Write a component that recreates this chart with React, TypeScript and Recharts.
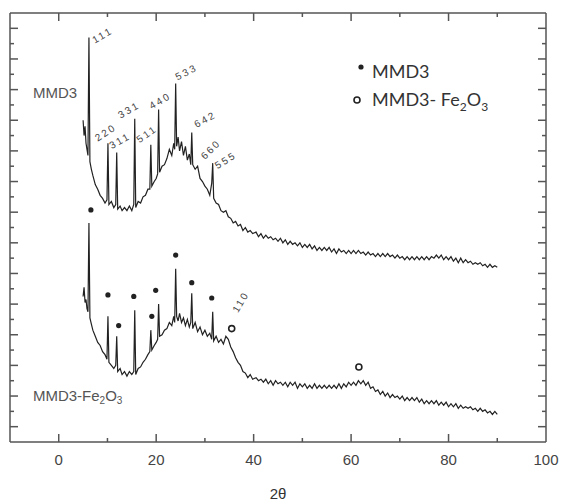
import React from 'react';
import { ComposedChart, Line, Scatter, XAxis, YAxis, ReferenceDot, Legend } from 'recharts';

// 2θ sampling shared by both patterns (deg)
const twoTheta = [
  5.0, 5.2, 5.4, 5.6, 5.8, 6.0, 6.2, 6.4, 6.7, 7.0, 7.5, 8.0, 8.5, 9.0, 9.5, 9.9,
  10.1, 10.3, 10.8, 11.3, 11.7, 11.9, 12.1, 12.6, 13.0, 13.5, 14.0, 14.5, 15.0, 15.4, 15.6, 15.8,
  16.3, 16.8, 17.3, 17.8, 18.3, 18.7, 18.9, 19.1, 19.6, 20.0, 20.3, 20.5, 20.7, 21.2, 21.7, 22.2,
  22.7, 23.2, 23.6, 23.8, 24.0, 24.2, 24.5, 24.8, 25.2, 25.6, 26.0, 26.4, 26.8, 27.1, 27.3, 27.5,
  28.0, 28.5, 29.0, 29.5, 30.0, 30.5, 31.0, 31.4, 31.6, 31.8, 32.3, 32.8, 33.3, 33.8, 34.3, 34.8,
  35.3, 35.8, 36.3, 36.8, 37.3, 37.8, 38.3, 38.8, 39.3, 39.8, 40.5, 41.0, 41.5, 42.0, 42.5, 43.0,
  43.5, 44.0, 44.5, 45.0, 45.5, 46.0, 46.5, 47.0, 47.5, 48.0, 48.5, 49.0, 49.5, 50.0, 50.5, 51.0,
  51.5, 52.0, 52.5, 53.0, 53.5, 54.0, 54.5, 55.0, 55.5, 56.0, 56.5, 57.0, 57.5, 58.0, 58.5, 59.0,
  59.5, 60.0, 60.5, 61.0, 61.5, 62.0, 62.5, 63.0, 63.5, 64.0, 64.5, 65.0, 65.5, 66.0, 66.5, 67.0,
  67.5, 68.0, 68.5, 69.0, 69.5, 70.0, 70.5, 71.0, 71.5, 72.0, 72.5, 73.0, 73.5, 74.0, 74.5, 75.0,
  75.5, 76.0, 76.5, 77.0, 77.5, 78.0, 78.5, 79.0, 79.5, 80.0, 80.5, 81.0, 81.5, 82.0, 82.5, 83.0,
  83.5, 84.0, 84.5, 85.0, 85.5, 86.0, 86.5, 87.0, 87.5, 88.0, 88.5, 89.0, 89.5, 90.0,
];

// intensity (a.u., offset) — MMD3
const mmd3 = [
  21.0, 20.0, 20.6, 19.5, 19.1, 18.7, 26.4, 18.3, 17.8, 17.4, 16.8, 16.5, 16.1, 15.9, 15.6, 15.8,
  19.5, 15.5, 15.7, 15.3, 15.5, 18.9, 15.2, 15.4, 15.1, 15.3, 15.1, 15.4, 15.1, 15.5, 21.1, 15.3,
  15.7, 15.6, 16.0, 16.1, 16.5, 16.5, 19.4, 16.7, 17.0, 17.2, 17.5, 21.7, 17.6, 18.0, 18.1, 18.5,
  19.1, 18.7, 19.5, 19.1, 23.4, 19.3, 19.9, 19.0, 19.6, 18.7, 19.3, 18.4, 18.8, 18.1, 20.2, 18.1,
  17.8, 18.0, 17.2, 17.0, 16.7, 16.5, 16.1, 16.9, 18.2, 15.9, 15.6, 15.5, 15.1, 15.0, 15.1, 14.7,
  14.6, 14.3, 14.4, 14.1, 14.2, 13.8, 14.0, 13.7, 13.8, 13.6, 13.7, 13.4, 13.6, 13.3, 13.5, 13.3,
  13.4, 13.2, 13.3, 13.1, 13.3, 13.0, 13.2, 12.9, 13.1, 12.9, 13.0, 12.8, 13.0, 12.7, 12.9, 12.7,
  12.9, 12.6, 12.8, 12.5, 12.7, 12.5, 12.7, 12.5, 12.7, 12.4, 12.6, 12.3, 12.6, 12.4, 12.5, 12.3,
  12.5, 12.3, 12.5, 12.3, 12.5, 12.3, 12.4, 12.2, 12.4, 12.2, 12.3, 12.1, 12.3, 12.1, 12.3, 12.1,
  12.3, 12.1, 12.2, 12.0, 12.2, 12.0, 12.1, 11.9, 12.1, 11.9, 12.1, 11.9, 12.1, 11.9, 12.1, 11.9,
  12.1, 11.9, 12.1, 12.0, 12.2, 12.0, 12.2, 11.9, 12.1, 11.9, 12.1, 11.8, 12.0, 11.7, 12.0, 11.7,
  11.9, 11.7, 11.8, 11.6, 11.7, 11.6, 11.7, 11.5, 11.6, 11.4, 11.6, 11.4, 11.5, 11.4,
];

// intensity (a.u., offset) — MMD3-Fe2O3
const mmd3Fe2O3 = [
  9.5, 10.1, 9.1, 9.3, 8.7, 8.5, 14.3, 8.1, 7.7, 7.3, 6.9, 6.5, 6.3, 5.9, 5.7, 5.4,
  8.2, 5.2, 5.0, 4.8, 5.0, 6.9, 4.6, 4.8, 4.4, 4.6, 4.3, 4.6, 4.4, 4.6, 8.6, 4.4,
  4.8, 4.9, 5.2, 5.4, 5.7, 5.9, 7.3, 6.0, 6.3, 6.5, 6.7, 9.0, 6.9, 7.0, 7.3, 7.4,
  7.8, 7.6, 8.2, 7.8, 11.3, 8.2, 7.9, 8.4, 7.8, 8.1, 7.6, 8.0, 7.5, 7.8, 9.7, 7.4,
  7.8, 7.2, 7.5, 7.0, 7.3, 6.9, 7.1, 6.7, 8.5, 6.6, 6.9, 6.5, 6.7, 6.4, 6.9, 6.7,
  6.2, 5.9, 5.5, 5.2, 5.0, 4.6, 4.5, 4.2, 4.4, 4.1, 4.2, 4.0, 4.1, 3.9, 4.1, 3.8,
  4.0, 3.7, 4.0, 3.8, 3.9, 3.7, 3.9, 3.6, 3.9, 3.7, 3.9, 3.5, 3.8, 3.6, 3.8, 3.5,
  3.7, 3.5, 3.8, 3.5, 3.7, 3.5, 3.7, 3.5, 3.7, 3.5, 3.7, 3.5, 3.8, 3.5, 3.8, 3.6,
  3.9, 3.7, 3.9, 3.7, 4.0, 3.8, 4.0, 3.7, 3.9, 3.5, 3.6, 3.3, 3.4, 3.1, 3.3, 3.0,
  3.2, 2.9, 3.1, 2.9, 3.0, 2.8, 3.0, 2.7, 2.9, 2.7, 2.9, 2.7, 2.9, 2.6, 2.8, 2.5,
  2.7, 2.5, 2.7, 2.5, 2.7, 2.4, 2.6, 2.4, 2.6, 2.3, 2.5, 2.3, 2.5, 2.2, 2.4, 2.2,
  2.3, 2.2, 2.3, 2.1, 2.2, 2.0, 2.2, 2.0, 2.1, 1.9, 2.0, 1.8, 2.0, 1.8,
];

// "*" reflections of MMD3 marked over the composite pattern
const starTheta = [6.6, 10.1, 12.3, 15.4, 19.1, 19.9, 24.0, 27.3, 31.4];
const starHeight = [15.15, 9.6, 7.6, 9.5, 8.2, 9.9, 12.2, 10.4, 9.4];

// "o" reflections of Fe2O3
const oxideTheta = [35.5, 61.6];
const oxideHeight = [7.4, 4.9];

// hkl indices of the MMD3 pattern
const hklLabels = ['111', '220', '311', '331', '511', '440', '533', '642', '660', '555'];
const hklTheta = [7.4, 8.0, 10.9, 12.7, 16.6, 19.1, 24.4, 28.3, 30.0, 32.6];
const hklHeight = [26.0, 19.6, 19.1, 21.1, 19.5, 21.7, 23.6, 20.5, 18.4, 17.8];
const hklAngle = [-30, -33, -30, -30, -35, -30, -27, -28, -45, -32];

const oxideHkl = ['110'];
const oxideHklTheta = [36.8];
const oxideHklHeight = [8.4];

const thetaTicks = [0, 10, 20, 30, 40, 50, 60, 70, 80, 90, 100];
const intensityTicks = [1, 2, 3, 4, 5, 6, 7, 8, 9, 10, 11, 12, 13, 14, 15, 16, 17, 18, 19, 20, 21, 22, 23, 24, 25, 26, 27];

const spectrum = twoTheta.map((tt, i) => ({ tt, mmd3: mmd3[i], fe: mmd3Fe2O3[i] }));
const stars = starTheta.map((tt, i) => ({ tt, v: starHeight[i] }));
const oxides = oxideTheta.map((tt, i) => ({ tt, v: oxideHeight[i] }));

const AXIS = '#555';
const INK = '#222';
const SANS = '"Liberation Sans", Arial, sans-serif';

const W = 561;
const H = 504;
const X_DOMAIN = [-10, 100];
const Y_DOMAIN = [0, 28];
// plot box, shared by chart margins and the frame-tick overlay
const BOX = { left: 10, top: 13, right: 546, bottom: 442 };

const XLabel = ({ x, y, payload }: any) =>
  payload.value % 20 === 0 ? (
    <text x={x} y={y + 23} textAnchor="middle" fontFamily={SANS} fontSize={15} fill="#444">
      {payload.value}
    </text>
  ) : (
    <g />
  );

const hklText = (label: string, angle: number) => (p: any) => (
  <text
    x={p.cx}
    y={p.cy}
    transform={`rotate(${angle} ${p.cx} ${p.cy})`}
    fontFamily={SANS}
    fontSize={10}
    letterSpacing={2.2}
    fill="#444"
  >
    {label}
  </text>
);

const LegendBox = () => (
  <div style={{ fontFamily: 'Lato, sans-serif', fontSize: 18, color: '#333', lineHeight: '28px' }}>
    <div style={{ display: 'flex', height: 28 }}>
      <svg width={19} height={28}>
        <circle cx={8} cy={10} r={2.6} fill={INK} />
      </svg>
      <span>MMD3</span>
    </div>
    <div style={{ display: 'flex', height: 28 }}>
      <svg width={19} height={28}>
        <circle cx={4} cy={15} r={3} fill="none" stroke={INK} strokeWidth={1.6} />
      </svg>
      <span>
        MMD3- Fe<sub style={{ fontSize: 12, lineHeight: 0 }}>2</sub>O<sub style={{ fontSize: 12, lineHeight: 0 }}>3</sub>
      </span>
    </div>
  </div>
);

// inward ticks on all four sides of the frame
const FrameTicks = () => {
  const sx = (t: number) =>
    BOX.left + ((t - X_DOMAIN[0]) / (X_DOMAIN[1] - X_DOMAIN[0])) * (BOX.right - BOX.left);
  const sy = (v: number) =>
    BOX.bottom - ((v - Y_DOMAIN[0]) / (Y_DOMAIN[1] - Y_DOMAIN[0])) * (BOX.bottom - BOX.top);
  return (
    <svg width={W} height={H} style={{ position: 'absolute', left: 0, top: 0, pointerEvents: 'none' }}>
      <g stroke={AXIS} strokeWidth={1.5}>
        {thetaTicks
          .filter((t) => t < X_DOMAIN[1])
          .map((t) => {
            const len = t % 20 === 0 ? 8 : 4;
            const x = sx(t);
            return (
              <g key={'x' + t}>
                <line x1={x} x2={x} y1={BOX.bottom} y2={BOX.bottom - len} />
                <line x1={x} x2={x} y1={BOX.top} y2={BOX.top + len} />
              </g>
            );
          })}
        {intensityTicks.map((v) => {
          const len = v % 2 === 1 ? 8 : 4;
          const y = sy(v);
          return (
            <g key={'y' + v}>
              <line x1={BOX.left} x2={BOX.left + len} y1={y} y2={y} />
              <line x1={BOX.right} x2={BOX.right - len} y1={y} y2={y} />
            </g>
          );
        })}
      </g>
    </svg>
  );
};

export default function App() {
  return (
    <div style={{ position: 'absolute', left: 0, top: 0, width: W, height: H }}>
      <ComposedChart
        width={W}
        height={H}
        data={spectrum}
        margin={{ top: BOX.top - 1, right: W - BOX.right - 1, bottom: 0, left: BOX.left - 1 }}
      >
        <XAxis
          dataKey="tt"
          type="number"
          domain={X_DOMAIN}
          allowDataOverflow
          ticks={thetaTicks}
          interval={0}
          height={H - BOX.bottom}
          tickSize={0}
          tickMargin={0}
          tickLine={false}
          axisLine={{ stroke: AXIS, strokeWidth: 1.5 }}
          tick={(p: any) => <XLabel {...p} />}
          label={{ value: '2θ', position: 'insideBottom', offset: 5, fontFamily: SANS, fontSize: 15, fill: '#333' }}
        />
        <XAxis
          xAxisId="top"
          dataKey="tt"
          orientation="top"
          type="number"
          domain={X_DOMAIN}
          allowDataOverflow
          height={1}
          tick={false}
          tickLine={false}
          axisLine={{ stroke: AXIS, strokeWidth: 1.5 }}
        />
        <YAxis
          type="number"
          domain={Y_DOMAIN}
          allowDataOverflow
          width={1}
          tick={false}
          tickLine={false}
          axisLine={{ stroke: AXIS, strokeWidth: 1.5 }}
        />
        <YAxis
          yAxisId="right"
          orientation="right"
          type="number"
          domain={Y_DOMAIN}
          allowDataOverflow
          width={1}
          tick={false}
          tickLine={false}
          axisLine={{ stroke: AXIS, strokeWidth: 1.5 }}
        />
        <Legend
          layout="vertical"
          align="center"
          verticalAlign="middle"
          wrapperStyle={{ left: 353, top: 57, width: 'auto' }}
          content={() => <LegendBox />}
        />
        <Line
          dataKey="mmd3"
          name="MMD3"
          type="linear"
          stroke={INK}
          strokeWidth={1.2}
          dot={false}
          isAnimationActive={false}
        />
        <Line
          dataKey="fe"
          name="MMD3-Fe2O3"
          type="linear"
          stroke={INK}
          strokeWidth={1.2}
          dot={false}
          isAnimationActive={false}
        />
        <Scatter
          data={stars}
          dataKey="v"
          isAnimationActive={false}
          shape={(p: any) => <circle cx={p.cx} cy={p.cy} r={2.6} fill={INK} />}
        />
        <Scatter
          data={oxides}
          dataKey="v"
          isAnimationActive={false}
          shape={(p: any) => <circle cx={p.cx} cy={p.cy} r={3} fill="none" stroke={INK} strokeWidth={1.6} />}
        />
        {hklLabels.map((label, i) => (
          <ReferenceDot
            key={label}
            x={hklTheta[i]}
            y={hklHeight[i]}
            ifOverflow="visible"
            shape={hklText(label, hklAngle[i])}
          />
        ))}
        {oxideHkl.map((label, i) => (
          <ReferenceDot
            key={'ox' + label}
            x={oxideHklTheta[i]}
            y={oxideHklHeight[i]}
            ifOverflow="visible"
            shape={hklText(label, -60)}
          />
        ))}
        <ReferenceDot
          x={-5.3}
          y={22.45}
          ifOverflow="visible"
          shape={(p: any) => (
            <text x={p.cx} y={p.cy} fontFamily={SANS} fontSize={15} fill="#555">
              MMD3
            </text>
          )}
        />
        <ReferenceDot
          x={-5.3}
          y={2.7}
          ifOverflow="visible"
          shape={(p: any) => (
            <text x={p.cx} y={p.cy} fontFamily={SANS} fontSize={15} fill="#555">
              MMD3-Fe<tspan dy={3} fontSize={10}>2</tspan>
              <tspan dy={-3}>O</tspan>
              <tspan dy={3} fontSize={10}>3</tspan>
            </text>
          )}
        />
      </ComposedChart>
      <FrameTicks />
    </div>
  );
}
